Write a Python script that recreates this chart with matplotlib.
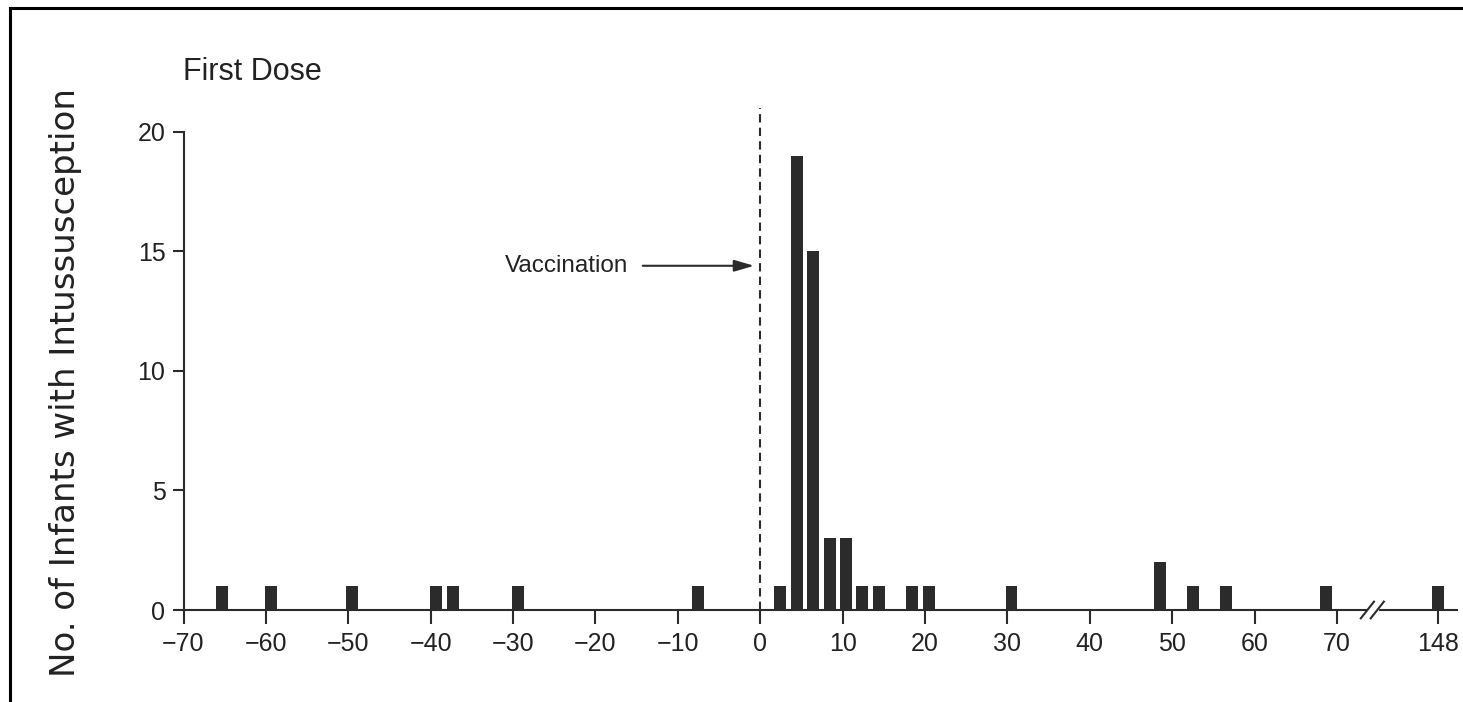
import numpy as np
import matplotlib
matplotlib.use('Agg')
import matplotlib.pyplot as plt
from matplotlib import font_manager
from matplotlib.lines import Line2D

# days relative to vaccination (bar centres) and number of infants
dias = [-65.3, -59.4, -49.5, -39.4, -37.3, -29.4, -7.5,
        2.4, 4.5, 6.4, 8.5, 10.4, 12.4, 14.4, 18.4, 20.5,
        30.5, 48.5, 52.5, 56.5, 68.7, 148]
casos = [1, 1, 1, 1, 1, 1, 1,
         1, 19, 15, 3, 3, 1, 1, 1, 1,
         1, 2, 1, 1, 1, 1]

xticks = [-70, -60, -50, -40, -30, -20, -10, 0, 10, 20, 30, 40, 50, 60, 70, 148]
yticks = [0, 5, 10, 15, 20]

# compressed axis after the break
QUEBRA = 76
K = 0.0875

def frente(x):
    x = np.asarray(x, dtype=float)
    return np.where(x <= QUEBRA, x, QUEBRA + (x - QUEBRA) * K)

def inversa(y):
    y = np.asarray(y, dtype=float)
    return np.where(y <= QUEBRA, y, QUEBRA + (y - QUEBRA) / K)

nomes = {f.name for f in font_manager.fontManager.ttflist}
if 'Liberation Sans Narrow' in nomes:
    fonte = 'Liberation Sans Narrow'
    tam_tick, tam_vac, tam_tit = 21, 20, 25
else:
    fonte = 'Liberation Sans'
    tam_tick, tam_vac, tam_tit = 18, 17.5, 22

cor = '#2b2b2b'

fig = plt.figure(figsize=(14.63, 7.02), dpi=100)
ax = fig.add_axes([183.5 / 1463, 92 / 702, (1457 - 183.5) / 1463, 502 / 702])
ax.set_xscale('function', functions=(frente, inversa))

# same visual width on both sides of the break
larg = [1.45 if d <= QUEBRA else 1.45 / K for d in dias]
ax.bar(dias, casos, width=larg, color=cor, zorder=3)

ax.set_xlim(-70, 174)
ax.set_ylim(0, 21)

for lado in ['top', 'right']:
    ax.spines[lado].set_visible(False)
ax.spines['left'].set_bounds(0, 20)
ax.spines['left'].set_linewidth(1.5)
ax.spines['bottom'].set_linewidth(1.5)
ax.spines['left'].set_color(cor)
ax.spines['bottom'].set_color(cor)

ax.set_xticks(xticks)
ax.set_xticklabels([str(t).replace('-', '\u2212') for t in xticks])
ax.set_yticks(yticks)
ax.tick_params(axis='x', direction='out', length=10, width=1.5, color=cor,
               pad=6, labelsize=tam_tick, labelcolor='#222222')
ax.tick_params(axis='y', direction='out', length=8, width=1.5, color=cor,
               pad=5, labelsize=tam_tick, labelcolor='#222222')
for lab in ax.get_xticklabels() + ax.get_yticklabels():
    lab.set_family(fonte)

# vaccination line and arrow
ax.axvline(0, ymin=0, ymax=1, color=cor, lw=1.5, dashes=(4, 2.5), zorder=2)
ax.annotate('', xy=(-0.4, 14.4), xytext=(-14.6, 14.4),
            arrowprops=dict(arrowstyle='-|>,head_length=1.2,head_width=0.35',
                            color=cor, lw=1.5))
ax.text(-16, 14.4, 'Vaccination', ha='right', va='center',
        fontsize=tam_vac, family=fonte, color='#222222')

# axis break marks
ax.plot([73.9, 74.9], [0, 0], color='white', lw=3, clip_on=False, zorder=3.5)
for dx in [-0.7, 0.5]:
    ax.plot([73.6 + dx, 75.2 + dx], [-0.35, 0.35], color=cor, lw=1.5,
            clip_on=False, zorder=4)

fig.text(183 / 1463, 1 - 72 / 702, 'First Dose', ha='left', va='center',
         fontsize=tam_tit, family=fonte, color='#222222')
fig.text(66 / 1463, 1 - 383 / 702, 'No. of Infants with Intussusception',
         rotation=90, ha='center', va='center', fontsize=24.5,
         family='DejaVu Sans', color='#222222')

# scan frame (top and left edges)
fig.add_artist(Line2D([10 / 1463, 10 / 1463], [0, 1 - 8 / 702],
                      transform=fig.transFigure, color='black', lw=2.2))
fig.add_artist(Line2D([10 / 1463, 1], [1 - 8 / 702, 1 - 8 / 702],
                      transform=fig.transFigure, color='black', lw=2.2))

fig.savefig('out.png', dpi=100)
